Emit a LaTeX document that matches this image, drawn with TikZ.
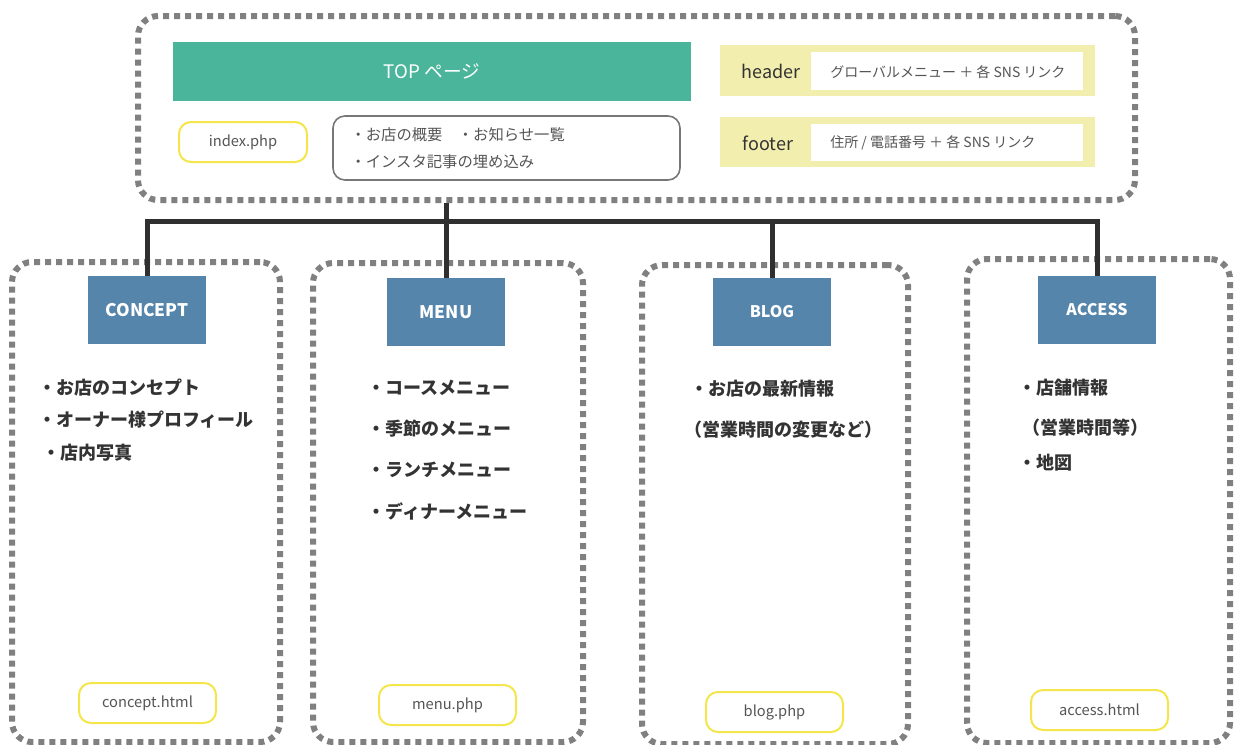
\documentclass[tikz,border=0pt]{standalone}
\usepackage{fontspec}
\setmainfont{Noto Sans CJK JP}
\definecolor{topgreen}{HTML}{4BB59B}
\definecolor{pageblue}{HTML}{5585AA}
\definecolor{hfyellow}{HTML}{F2EEAE}
\definecolor{fileyellow}{HTML}{F4E64A}
\definecolor{dotgray}{HTML}{808080}
\definecolor{linkblack}{HTML}{2F2F2F}
\definecolor{textdark}{HTML}{333333}
\definecolor{textgray}{HTML}{555555}
\begin{document}
\begin{tikzpicture}[x=0.75pt,y=-0.75pt,
           group_style/.style={draw=dotgray,line width=4.5pt,dash pattern=on 4.5pt off 3.75pt,rounded corners=15pt,inner sep=0pt},
           top_style/.style={fill=topgreen,text=white,minimum width=388.5pt,minimum height=44.25pt,font=\fontsize{14}{16}\selectfont},
           page_style/.style={fill=pageblue,text=white,minimum width=88.5pt,minimum height=51pt,font=\fontsize{13}{15}\selectfont\bfseries},
           file_style/.style={draw=fileyellow,line width=1.5pt,rounded corners=9pt,text=textgray,minimum width=102.75pt,minimum height=30pt,font=\fontsize{11}{13}\selectfont},
           desc_style/.style={draw=textgray!80,line width=1.2pt,rounded corners=9pt,text=textgray,minimum width=260.25pt,minimum height=48pt,inner xsep=13pt,text width=234pt,align=left,font=\fontsize{11.5}{20}\selectfont},
           hf_style/.style={fill=hfyellow,minimum width=281.25pt},
           hfin_style/.style={fill=white,minimum width=204pt},
           hf_label/.style={text=textdark,font=\fontsize{13.5}{16}\selectfont},
           hf_text/.style={text=textgray,anchor=west,inner sep=0pt,font=\fontsize{10.5}{12}\selectfont},
           item_style/.style={text=textdark,anchor=west,inner sep=0pt,font=\fontsize{13.5}{16}\selectfont\bfseries},
           link_style/.style={draw=linkblack,line width=3.75pt}]
            \useasboundingbox (0,0) rectangle (1235,744);
            % groups
            \node[group_style,minimum width=747.75pt,minimum height=138pt] (top_group) at (636.5,108) {};
            \node[group_style,minimum width=201pt,minimum height=360pt] (concept_group) at (146,502) {};
            \node[group_style,minimum width=202.5pt,minimum height=359.25pt] (menu_group) at (448,502.5) {};
            \node[group_style,minimum width=199.5pt,minimum height=359.25pt] (blog_group) at (775,504.5) {};
            \node[group_style,minimum width=197.25pt,minimum height=363pt] (access_group) at (1098.5,501) {};
            % top page
            \node[top_style] (top) at (432,71.5) {TOP ページ};
            \node[file_style,minimum width=96pt] (index) at (243,142) {index.php};
            \node[desc_style] (desc) at (506.5,148) {・お店の概要　・お知らせ一覧\\・インスタ記事の埋め込み};
            \node[hf_style,minimum height=38.25pt] (header) at (907.5,70.5) {};
            \node[hfin_style,minimum height=28.5pt] (header_in) at (947,71) {};
            \node[hf_label] (header_label) at (771,71) {header};
            \node[hf_text] (header_text) at (830,72) {グローバルメニュー ＋ 各 SNS リンク};
            \node[hf_style,minimum height=37.5pt] (footer) at (907.5,142) {};
            \node[hfin_style,minimum height=27.75pt] (footer_in) at (947,142.5) {};
            \node[hf_label] (footer_label) at (768,143) {footer};
            \node[hf_text] (footer_text) at (830,143) {住所 / 電話番号 ＋ 各 SNS リンク};
            % pages
            \node[page_style] (concept) at (147,310) {CONCEPT};
            \node[page_style] (menu) at (446,312) {MENU};
            \node[page_style,font=\fontsize{12}{14}\selectfont\bfseries] (blog) at (772,312) {BLOG};
            \node[page_style,font=\fontsize{12}{14}\selectfont\bfseries] (access) at (1097,310) {ACCESS};
            % links
            \coordinate (bar) at (446,221);
            \draw[link_style] (concept.north) -- (concept.north |- bar) -- (access.north |- bar) -- (access.north);
            \draw[link_style] (menu.north |- top_group.south) -- (menu.north);
            \draw[link_style] (blog.north |- bar) -- (blog.north);
            % contents
            \node[item_style] (concept_i1) at (38,388) {・お店のコンセプト};
            \node[item_style] (concept_i2) at (38,420) {・オーナー様プロフィール};
            \node[item_style] (concept_i3) at (42,453) {・店内写真};
            \node[item_style] (menu_i1) at (367,388) {・コースメニュー};
            \node[item_style] (menu_i2) at (367,429) {・季節のメニュー};
            \node[item_style] (menu_i3) at (367,470) {・ランチメニュー};
            \node[item_style] (menu_i4) at (367,511) {・ディナーメニュー};
            \node[item_style] (blog_i1) at (690,389) {・お店の最新情報};
            \node[item_style] (blog_i2) at (684,430) {（営業時間の変更など）};
            \node[item_style] (access_i1) at (1018,388) {・店舗情報};
            \node[item_style] (access_i2) at (1022,428) {（営業時間等）};
            \node[item_style] (access_i3) at (1018,463) {・地図};
            % files
            \node[file_style] (concept_file) at (147.5,703) {concept.html};
            \node[file_style] (menu_file) at (447.5,705) {menu.php};
            \node[file_style] (blog_file) at (774.5,712) {blog.php};
            \node[file_style] (access_file) at (1099.5,710) {access.html};
        \end{tikzpicture}
\end{document}
